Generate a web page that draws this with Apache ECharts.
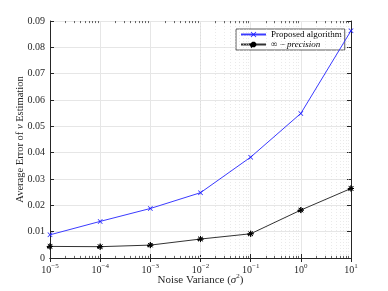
<!DOCTYPE html>
<html><head><meta charset="utf-8">
<script src="https://cdn.jsdelivr.net/npm/echarts@6/dist/echarts.min.js"></script>
<style>html,body{margin:0;padding:0;background:#fff}#c{width:388px;height:291px}</style>
</head><body><div id="c"></div>
<script>
const noiseVariance = [1e-5, 1e-4, 1e-3, 1e-2, 1e-1, 1, 10];
const proposed = [0.0088, 0.0139, 0.0188, 0.0248, 0.0383, 0.0549, 0.0863];
const infPrecision = [0.0044, 0.0043, 0.0049, 0.0072, 0.0092, 0.0182, 0.0264];
const seriesNames = ['Proposed algorithm', '∞ − precision'];
const yTickLabels = ['0', '0.01', '0.02', '0.03', '0.04', '0.05', '0.06', '0.07', '0.08', '0.09'];

const FONT = 'Liberation Serif';
const minorX = [];
for (let e = -5; e < 1; e++) for (let k = 2; k <= 9; k++) minorX.push(k * Math.pow(10, e));

const xLabel = v => {
  const e = Math.round(Math.log10(v));
  return '{b|10}{s|' + (e < 0 ? '−' + (-e) : e) + '}';
};
const xRich = {
  b: { fontFamily: FONT, fontSize: 10, color: '#262626' },
  s: { fontFamily: FONT, fontSize: 7, color: '#262626', padding: [0, 0, 7, 0] }
};
const axisCol = '#262626';

const chart = echarts.init(document.getElementById('c'), null, { renderer: 'canvas' });
chart.setOption({
  animation: false,
  backgroundColor: '#fff',
  grid: { left: 50, right: 37, top: 21, bottom: 33, outerBoundsMode: 'none', containLabel: false },
  legend: {
    data: seriesNames,
    orient: 'vertical', left: 236, top: 29,
    backgroundColor: '#fff', borderColor: '#333', borderWidth: 0.8, borderRadius: 0,
    padding: [1, 3, 1, 4], itemGap: 1, itemWidth: 25, itemHeight: 7,
    textStyle: { fontFamily: FONT, fontSize: 9, color: '#000',
      rich: { i: { fontFamily: FONT, fontStyle: 'italic', fontSize: 9, color: '#000' } } },
    formatter: n => n === seriesNames[1] ? '∞ − {i|precision}' : n
  },
  xAxis: [{
    type: 'log', logBase: 10, min: 1e-5, max: 10,
    name: 'Noise Variance ({i|σ}{s|2})', nameLocation: 'middle', nameGap: 15, nameMoveOverlap: false,
    nameTextStyle: { fontFamily: FONT, fontSize: 11, color: '#262626',
      rich: { i: { fontFamily: FONT, fontStyle: 'italic', fontSize: 11, color: '#262626' },
              s: { fontFamily: FONT, fontSize: 7, color: '#262626', padding: [0, 0, 7, 0] } } },
    axisLine: { lineStyle: { color: axisCol, width: 1 } },
    axisTick: { inside: true, length: 4, lineStyle: { color: axisCol } },
    axisLabel: { formatter: xLabel, rich: xRich, margin: 5 },
    splitLine: { show: true, lineStyle: { color: '#e6e6e6', width: 1 } }
  }, {
    type: 'log', logBase: 10, min: 1e-5, max: 10, position: 'top',
    axisLine: { lineStyle: { color: axisCol, width: 1 } },
    axisTick: { inside: true, length: 4, lineStyle: { color: axisCol } },
    axisLabel: { show: false }, splitLine: { show: false }
  }],
  yAxis: [{
    type: 'value', min: 0, max: 0.09, interval: 0.01,
    name: 'Average Error of {i|ν} Estimation', nameLocation: 'middle', nameGap: 24, nameMoveOverlap: false,
    nameTextStyle: { fontFamily: FONT, fontSize: 10.5, color: '#262626',
      rich: { i: { fontFamily: FONT, fontStyle: 'italic', fontSize: 10.5, color: '#262626' } } },
    axisLine: { show: true, lineStyle: { color: axisCol, width: 1 } },
    axisTick: { show: true, inside: true, length: 4, lineStyle: { color: axisCol } },
    axisLabel: { formatter: v => yTickLabels[Math.round(v * 100)], fontFamily: FONT, fontSize: 10, color: '#262626', margin: 5 },
    splitLine: { show: true, lineStyle: { color: '#e6e6e6', width: 1 } }
  }, {
    type: 'value', min: 0, max: 0.09, interval: 0.01, position: 'right',
    axisLine: { show: true, lineStyle: { color: axisCol, width: 1 } },
    axisTick: { show: true, inside: true, length: 4, lineStyle: { color: axisCol } },
    axisLabel: { show: false }, splitLine: { show: false }
  }],
  series: [{
    name: 'grid-minor', type: 'line', data: [], z: 1, silent: true,
    markLine: {
      silent: true, symbol: 'none', label: { show: false },
      lineStyle: { color: '#dcdcdc', type: [1, 2], width: 0.6 },
      data: minorX.map(v => ({ xAxis: v }))
    }
  }, {
    name: 'tick-minor', type: 'line', data: [], z: 3, silent: true,
    markLine: {
      silent: true, symbol: 'none', label: { show: false },
      lineStyle: { color: axisCol, type: 'solid', width: 0.7 },
      data: minorX.map(v => [{ coord: [v, 0] }, { coord: [v, 0.0008] }])
        .concat(minorX.map(v => [{ coord: [v, 0.09] }, { coord: [v, 0.0892] }]))
    }
  }, {
    name: seriesNames[0], type: 'line', z: 5,
    data: noiseVariance.map((x, i) => [x, proposed[i]]),
    lineStyle: { color: '#3b3bff', width: 1 },
    itemStyle: { color: '#1a1aff' },
    symbol: 'path://M0,1L1,0L5,4L9,0L10,1L6,5L10,9L9,10L5,6L1,10L0,9L4,5Z',
    symbolSize: 5, showSymbol: true
  }, {
    name: seriesNames[1], type: 'line', z: 5,
    data: noiseVariance.map((x, i) => [x, infPrecision[i]]),
    lineStyle: { color: '#333', width: 1 },
    itemStyle: { color: '#000', borderColor: '#000', borderWidth: 1 },
    symbol: 'path://M0,5L10,5L5,5L5,0L5,10L5,5L1.5,1.5L8.5,8.5L5,5L8.5,1.5L1.5,8.5Z',
    symbolSize: 6, showSymbol: true
  }]
});
</script></body></html>
